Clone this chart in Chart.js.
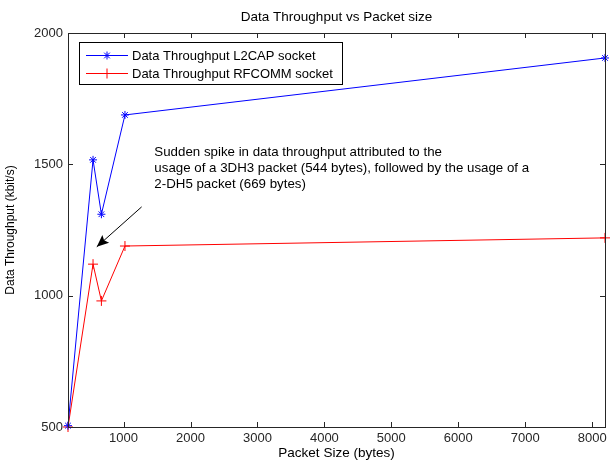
<!DOCTYPE html>
<html>
<head>
<meta charset="utf-8">
<script src="https://cdn.jsdelivr.net/npm/chart.js@4"></script>
<style>
  body { margin: 0; background: #fff; }
  #wrap { width: 611px; height: 462px; }
</style>
</head>
<body>
<div id="wrap"><canvas id="chart" width="611" height="462"></canvas></div>
<script>
// packet size (bytes) vs throughput (kbit/s)
const packetSizes = [170, 544, 669, 1021, 8192];
const l2capThroughput = [505, 1517, 1310, 1688, 1905];
const rfcommThroughput = [500, 1120, 980, 1189, 1220];

const seriesNames = ["Data Throughput L2CAP socket", "Data Throughput RFCOMM socket"];
const xTicks = [1000, 2000, 3000, 4000, 5000, 6000, 7000, 8000];
const yTicks = [500, 1000, 1500, 2000];

const chartTitle = "Data Throughput vs Packet size";
const noteLines = [
  "Sudden spike in data throughput attributed to the",
  "usage of a 3DH3 packet (544 bytes), followed by the usage of a",
  "2-DH5 packet (669 bytes)",
];

const FONT = "Arial, 'Liberation Sans', sans-serif";
const AXIS = "#262626";

// box around the axes + inward ticks, matlab style
const boxPlugin = {
  id: "box",
  afterDraw(chart) {
    const { ctx, chartArea: a, scales } = chart;
    ctx.save();
    ctx.strokeStyle = AXIS;
    ctx.lineWidth = 1;
    ctx.strokeRect(Math.round(a.left) + 0.5, Math.round(a.top) + 0.5,
      Math.round(a.right - a.left), Math.round(a.bottom - a.top));
    ctx.beginPath();
    xTicks.forEach((v) => {
      const x = Math.round(scales.x.getPixelForValue(v)) + 0.5;
      ctx.moveTo(x, a.bottom); ctx.lineTo(x, a.bottom - 5);
      ctx.moveTo(x, a.top); ctx.lineTo(x, a.top + 5);
    });
    yTicks.forEach((v) => {
      const y = Math.round(scales.y.getPixelForValue(v)) + 0.5;
      ctx.moveTo(a.left, y); ctx.lineTo(a.left + 5, y);
      ctx.moveTo(a.right, y); ctx.lineTo(a.right - 5, y);
    });
    ctx.stroke();

    // title centred over the axes
    ctx.fillStyle = "#000";
    ctx.font = "13.5px " + FONT;
    ctx.textAlign = "center";
    ctx.textBaseline = "middle";
    ctx.fillText(chartTitle, (a.left + a.right) / 2, 17);
    ctx.restore();
  },
};

// legend box in the top left corner
const legendPlugin = {
  id: "boxLegend",
  afterDraw(chart) {
    const { ctx, chartArea: a } = chart;
    const x0 = a.left + 11, y0 = a.top + 9;
    ctx.save();
    ctx.fillStyle = "#fff";
    ctx.fillRect(x0, y0, 263, 42);
    ctx.strokeStyle = "#000";
    ctx.lineWidth = 1;
    ctx.strokeRect(x0 + 0.5, y0 + 0.5, 263, 42);
    ctx.font = "13px " + FONT;
    ctx.textBaseline = "middle";
    chart.data.datasets.forEach((ds, i) => {
      const y = y0 + 13 + i * 18;
      ctx.strokeStyle = ds.borderColor;
      ctx.beginPath();
      ctx.moveTo(x0 + 7, y + 0.5); ctx.lineTo(x0 + 49, y + 0.5);
      ctx.stroke();
      Chart.helpers.drawPoint(ctx, {
        pointStyle: ds.pointStyle, radius: ds.pointRadius, rotation: 0, borderWidth: 1,
      }, x0 + 28, y + 0.5);
      ctx.fillStyle = "#000";
      ctx.fillText(ds.label, x0 + 53, y + 1);
    });
    ctx.restore();
  },
};

// note text plus arrow pointing at the spike
const notePlugin = {
  id: "note",
  afterDraw(chart) {
    const { ctx, scales } = chart;
    const tx = scales.x.getPixelForValue(1460);
    const ty = scales.y.getPixelForValue(1545);
    ctx.save();
    ctx.font = "13.3px " + FONT;
    ctx.fillStyle = "#000";
    ctx.textBaseline = "middle";
    noteLines.forEach((t, i) => ctx.fillText(t, tx, ty + i * 16));

    const sx = scales.x.getPixelForValue(1270), sy = scales.y.getPixelForValue(1338);
    const ex = scales.x.getPixelForValue(600), ey = scales.y.getPixelForValue(1186);
    const ang = Math.atan2(ey - sy, ex - sx);
    ctx.strokeStyle = "#000";
    ctx.lineWidth = 1;
    ctx.beginPath();
    ctx.moveTo(sx, sy); ctx.lineTo(ex, ey);
    ctx.stroke();
    const L = 13, W = 0.4;
    ctx.beginPath();
    ctx.moveTo(ex, ey);
    ctx.lineTo(ex - L * Math.cos(ang - W), ey - L * Math.sin(ang - W));
    ctx.lineTo(ex - L * 0.75 * Math.cos(ang), ey - L * 0.75 * Math.sin(ang));
    ctx.lineTo(ex - L * Math.cos(ang + W), ey - L * Math.sin(ang + W));
    ctx.closePath();
    ctx.fillStyle = "#000";
    ctx.fill();
    ctx.restore();
  },
};

new Chart(document.getElementById("chart"), {
  type: "line",
  data: {
    labels: packetSizes,
    datasets: [
      {
        label: seriesNames[0],
        data: packetSizes.map((x, i) => ({ x, y: l2capThroughput[i] })),
        borderColor: "#0000ff",
        borderWidth: 1,
        pointStyle: "star",
        pointRadius: 4,
        pointBorderColor: "#0000ff",
        pointBorderWidth: 1,
        tension: 0,
        fill: false,
        clip: false,
      },
      {
        label: seriesNames[1],
        data: packetSizes.map((x, i) => ({ x, y: rfcommThroughput[i] })),
        borderColor: "#ff0000",
        borderWidth: 1,
        pointStyle: "cross",
        pointRadius: 5,
        pointBorderColor: "#ff0000",
        pointBorderWidth: 1,
        tension: 0,
        fill: false,
        clip: false,
      },
    ],
  },
  options: {
    responsive: false,
    animation: false,
    devicePixelRatio: 1,
    layout: { padding: { left: 0, right: 3, top: 33, bottom: 0 } },
    plugins: {
      legend: { display: false },
      tooltip: { enabled: false },
      title: { display: false },
    },
    scales: {
      x: {
        type: "linear",
        min: 170,
        max: 8192,
        afterBuildTicks: (s) => { s.ticks = xTicks.map((v) => ({ value: v })); },
        afterFit: (s) => { s.height = 35; },
        grid: { display: false, drawTicks: false },
        border: { display: false },
        ticks: {
          color: AXIS, font: { family: FONT, size: 13 }, padding: 4, maxRotation: 0,
          callback: (v) => String(v),
        },
        title: {
          display: true, text: "Packet Size (bytes)", color: "#000",
          font: { family: FONT, size: 13.5 }, padding: { top: 0, bottom: 1 },
        },
      },
      y: {
        min: 500,
        max: 2000,
        afterBuildTicks: (s) => { s.ticks = yTicks.map((v) => ({ value: v })); },
        afterFit: (s) => { s.width = 68; },
        grid: { display: false, drawTicks: false },
        border: { display: false },
        ticks: {
          color: AXIS, font: { family: FONT, size: 13 }, padding: 5,
          callback: (v) => String(v),
        },
        title: {
          display: true, text: "Data Throughput (kbit/s)", color: "#000",
          font: { family: FONT, size: 12 }, padding: { top: 3, bottom: 0 },
        },
      },
    },
  },
  plugins: [boxPlugin, legendPlugin, notePlugin],
});
</script>
</body>
</html>
